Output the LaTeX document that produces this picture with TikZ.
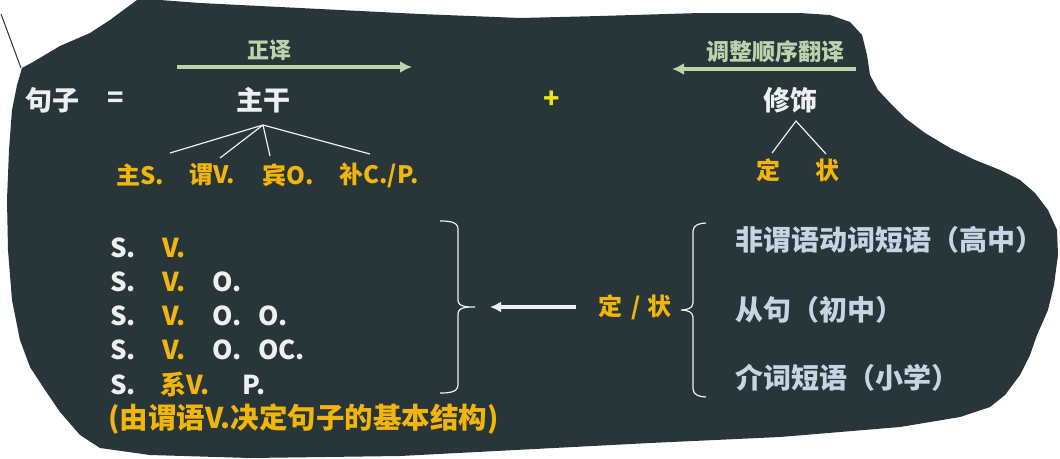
\documentclass[tikz,border=0pt]{standalone}
\usepackage{fontspec}
\usepackage{tikz}
\usetikzlibrary{arrows.meta}
\newfontfamily\cjk{Noto Sans CJK SC}
\definecolor{bd}{RGB}{40,54,57}
\definecolor{gd}{RGB}{242,182,10}
\definecolor{pg}{RGB}{190,210,172}
\definecolor{lb}{RGB}{200,212,228}
\definecolor{yl}{RGB}{240,230,20}
\definecolor{wt}{RGB}{238,240,240}

\begin{document}
\begin{tikzpicture}[x=1pt,y=-1pt,
    txt/.style={inner sep=0pt,font=\cjk\bfseries\fontsize{27}{27}\selectfont},
    big/.style={txt,text=wt},
    lab/.style={txt,text=gd,font=\cjk\bfseries\fontsize{24}{24}\selectfont},
    grn/.style={txt,text=pg,font=\cjk\bfseries\fontsize{22}{22}\selectfont},
    row/.style={txt,text=wt,anchor=west,font=\cjk\bfseries\fontsize{26}{26}\selectfont},
    lst/.style={txt,text=lb,anchor=west,font=\cjk\bfseries\fontsize{28}{28}\selectfont},
    garrow/.style={-{Latex[length=12pt,width=12pt]},pg,line width=3.4pt},
    warrow/.style={-{Latex[length=11pt,width=11pt]},wt,line width=3.2pt},
    twig/.style={wt,line width=1.2pt},
    brc/.style={wt,line width=1.2pt}]
        \useasboundingbox(0,0)rectangle(1060,458);
        % blob
        \fill[bd](22,68)--(33,62)--(60,46)--(90,33)--(110,20)--(137,0)--(160,0)--(200,3)--(300,8)--(420,14)--(520,18)--(600,16)--(700,13)--(800,13)--(830,15)--(850,22)--(862,35)--(867,55)--(870,75)--(878,90)--(892,105)--(905,118)--(925,133)--(950,148)--(975,160)--(1000,170)--(1020,180)--(1035,193)--(1048,210)--(1057,230)--(1058,255)--(1054,285)--(1048,310)--(1037,335)--(1030,355)--(1020,375)--(1005,395)--(990,407)--(960,417)--(900,427)--(780,437)--(650,443)--(400,456)--(250,458)--(150,455)--(100,448)--(80,435)--(60,412)--(45,390)--(30,367)--(20,340)--(12,300)--(8,250)--(7,200)--(9,150)--(12,110)--(17,85)--cycle;
        \draw[bd,line width=1pt](1,14)--(21,68);
        % top line
        \node[big](jz)at(52,100){句子};
        \node[big](eq)at(116,100){=};
        \node[big](zg)at(263,100){主干};
        \node[txt,text=yl](pl)at(552,100){+};
        \node[big](xs)at(790,100){修饰};
        \node[grn](zy)at(269,50){正译};
        \node[grn,font=\cjk\bfseries\fontsize{23}{23}\selectfont](tz)at(775,52){调整顺序翻译};
        \coordinate(a1)at(177,67);
        \coordinate(a2)at(412,67);
        \coordinate(b1)at(856,69);
        \coordinate(b2)at(672,69);
        \draw[garrow](a1)--(a2);
        \draw[garrow](b1)--(b2);
        % trunk
        \coordinate(zt)at(263,125);
        \node[lab](s1)at(140,175){主S.};
        \node[lab](s2)at(212,175){谓V.};
        \node[lab](s3)at(288,175){宾O.};
        \node[lab](s4)at(379,175){补C./P.};
        \coordinate(e1)at(170,153);
        \coordinate(e2)at(220,158);
        \coordinate(e3)at(270,156);
        \coordinate(e4)at(370,154);
        \foreach \e in {e1,e2,e3,e4}
            \draw[twig](zt)--(\e);
        % modifier
        \coordinate(xt)at(796,121);
        \coordinate(f1)at(772,153);
        \coordinate(f2)at(826,154);
        \draw[twig](f1)--(xt)--(f2);
        \node[lab](dd)at(768,170){定};
        \node[lab](zz)at(827,170){状};
        % patterns
        \node[row](r1)at(110,248){\makebox[52pt][l]{S.}\textcolor{gd}{V.}};
        \node[row](r2)at(110,282){\makebox[52pt][l]{S.}\makebox[50pt][l]{\textcolor{gd}{V.}}O.};
        \node[row](r3)at(110,316){\makebox[52pt][l]{S.}\makebox[50pt][l]{\textcolor{gd}{V.}}\makebox[46pt][l]{O.}O.};
        \node[row](r4)at(110,350){\makebox[52pt][l]{S.}\makebox[50pt][l]{\textcolor{gd}{V.}}\makebox[46pt][l]{O.}OC.};
        \node[row](r5)at(110,384){\makebox[50pt][l]{S.}\makebox[82pt][l]{\textcolor{gd}{系V.}}P.};
        \node[txt,text=gd,anchor=west,font=\cjk\bfseries\fontsize{28.5}{28.5}\selectfont](jg)at(108,419){(由谓语V.决定句子的基本结构)};
        \draw[brc](440,221)to[out=0,in=90](458,229)--(458,300)to[out=-90,in=180](475,307)
            to[out=180,in=90](458,314)--(458,385)to[out=-90,in=0](440,393);
        % clauses
        \node[lab](dz)at(635,307){定\hspace{9pt}/\hspace{7pt}状};
        \coordinate(c1)at(576,307);
        \coordinate(c2)at(490,307);
        \draw[warrow](c1)--(c2);
        \draw[brc](706,223)to[out=180,in=90](693,231)--(693,303)to[out=-90,in=0](681,310)
            to[out=0,in=90](693,317)--(693,389)to[out=-90,in=180](706,397);
        \node[lst](l1)at(735,240){非谓语动词短语（高中）};
        \node[lst](l2)at(735,310){从句（初中）};
        \node[lst](l3)at(735,378){介词短语（小学）};
\end{tikzpicture}
\end{document}
